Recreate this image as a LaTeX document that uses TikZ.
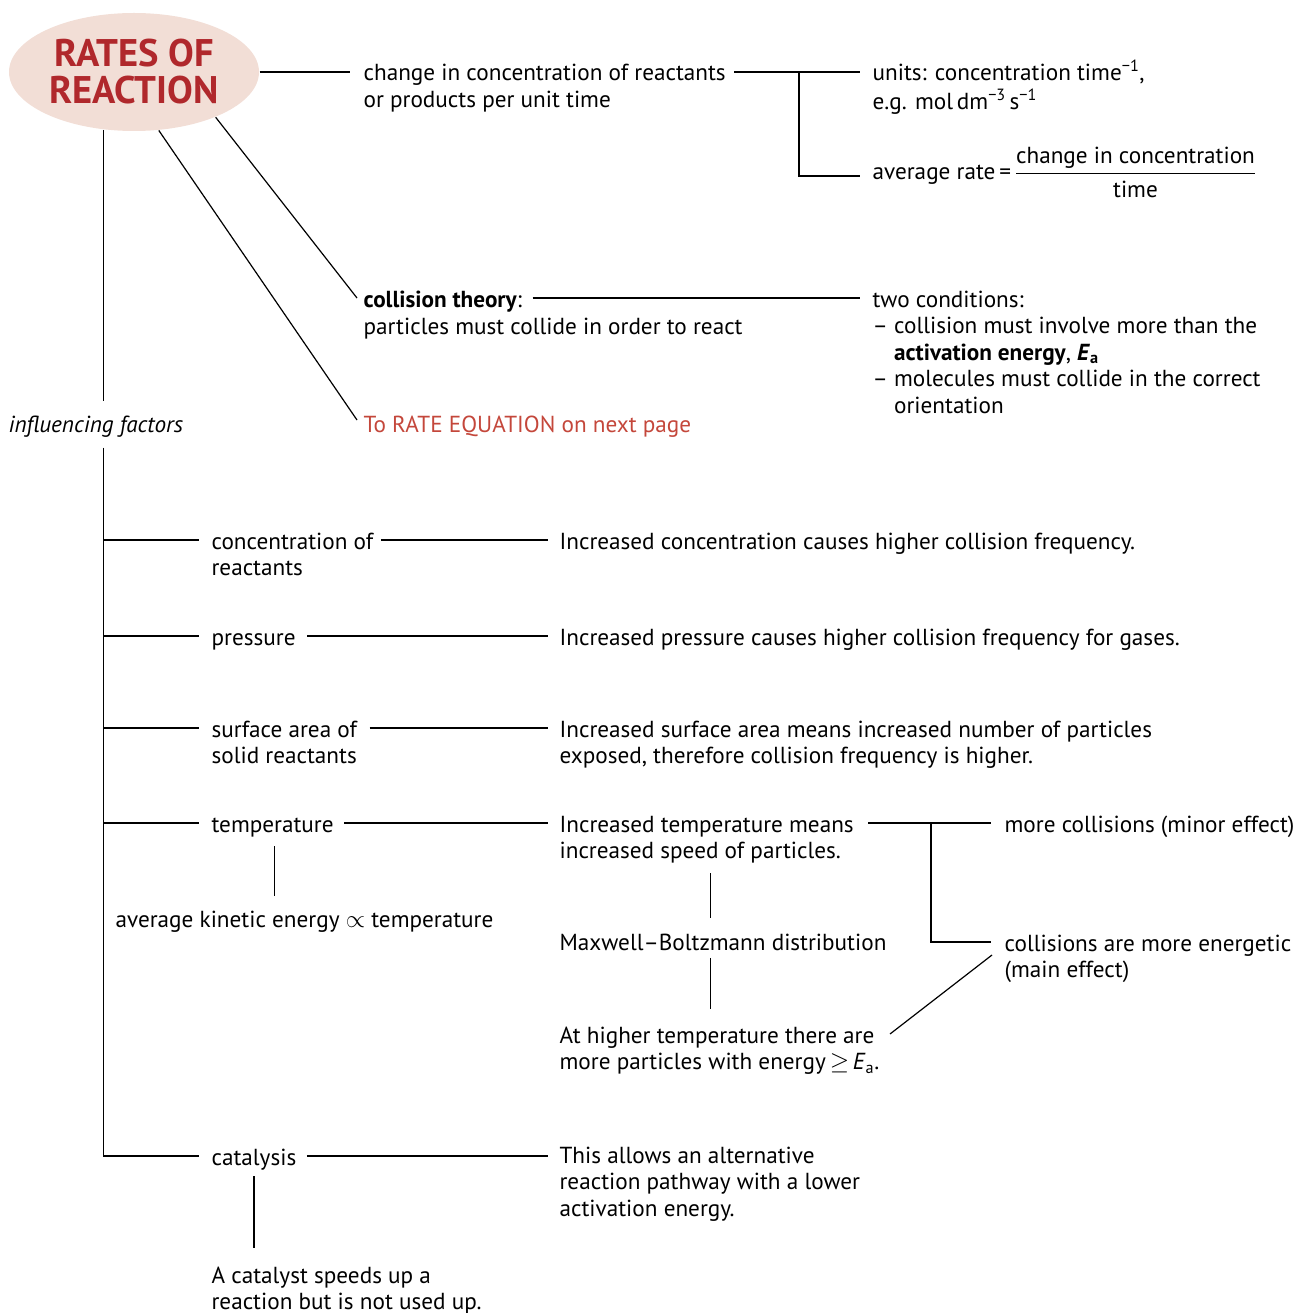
\documentclass[tikz,border=0pt]{standalone}
\usepackage{amsmath}
\usepackage{fontspec}
\setmainfont{PT Sans}
\usetikzlibrary{shapes.geometric,calc}
\definecolor{titlered}{HTML}{B0282C}
\definecolor{titlefill}{HTML}{F2DED6}
\definecolor{linkred}{HTML}{C4473B}
\newcommand\mlines[1]{\begin{tabular}[t]{@{}l@{}}#1\end{tabular}}
\begin{document}
\begin{tikzpicture}[x=1pt,y=-1pt,
  txt/.style={anchor=base west, inner sep=0pt, font=\fontsize{23.2}{26.5}\selectfont},
  every path/.style={line width=1.2pt}]
\useasboundingbox (0,0) rectangle (1296,1313);
\node[ellipse, fill=titlefill, minimum width=250pt, minimum height=118pt, inner sep=0pt,
  align=center, font=\fontsize{38.5}{37}\selectfont\bfseries, text=titlered] (title) at (134,72) {RATES OF\\REACTION};
\node[txt] (ct) at (363,81) {\mlines{change in concentration of reactants\\or products per unit time}};
\node[txt] (units) at (872,81) {\mlines{units: concentration time\textsuperscript{−1},\\e.g. mol\,dm\textsuperscript{−3}\,s\textsuperscript{−1}}};
\node[txt] (avg) at (872,180) {average rate\,=\,$\dfrac{\text{change in concentration}}{\text{time}}$};
\node[txt] (ct1) at (363,307) {\textbf{collision theory}:};
\node[txt] (ct2) at (363,334) {particles must collide in order to react};
\node[txt] (two) at (872,307) {\mlines{two conditions:\\– collision must involve more than the\\\phantom{– }\textbf{activation energy}, \textbf{\textit{E}\textsubscript{a}}\\– molecules must collide in the correct\\\phantom{– }orientation}};
\node[txt, text=linkred] (rate) at (363,432) {To RATE EQUATION on next page};
\node[txt] (inf) at (8,432) {\textit{influencing factors}};
\node[txt] (conc) at (211,549) {\mlines{concentration of\\reactants}};
\node[txt] (pres) at (211,645) {pressure};
\node[txt] (surf) at (211,737) {\mlines{surface area of\\solid reactants}};
\node[txt] (temp) at (211,832) {temperature};
\node[txt] (cat) at (211,1165) {catalysis};
\node[txt] (e1) at (559,549) {Increased concentration causes higher collision frequency.};
\node[txt] (e2) at (559,645) {Increased pressure causes higher collision frequency for gases.};
\node[txt] (e3) at (559,737) {\mlines{Increased surface area means increased number of particles\\exposed, therefore collision frequency is higher.}};
\node[txt] (e4) at (559,832) {\mlines{Increased temperature means\\increased speed of particles.}};
\node[txt] (e5) at (559,1163) {\mlines{This allows an alternative\\reaction pathway with a lower\\activation energy.}};
\node[txt] (more) at (1004,832) {more collisions (minor effect)};
\node[txt] (ener) at (1004,951) {\mlines{collisions are more energetic\\(main effect)}};
\node[txt] (ake) at (115,927) {average kinetic energy $\propto$ temperature};
\node[txt] (mb) at (559,950) {Maxwell–Boltzmann distribution};
\node[txt] (ath) at (559,1043) {\mlines{At higher temperature there are\\more particles with energy\,$\geq$\,\textit{E}\textsubscript{a}.}};
\node[txt] (cs) at (211,1283) {\mlines{A catalyst speeds up a\\reaction but is not used up.}};
% top connectors
\draw (title.east) -- ($(ct.base west)+(-13,-9)$);
\draw ($(ct.base east)+(8,-9)$) -- ($(units.base west)+(-12,-9)$);
\draw ($(units.base west)+(-73,-9)$) |- ($(avg.base west)+(-12,-4)$);
\draw (title.-29) -- ($(ct1.base west)+(-6,-9)$);
\draw (title.-67) -- ($(rate.base west)+(-6,-12)$);
\draw ($(ct1.base east)+(10,-9)$) -- ($(two.base west)+(-12,-9)$);
% trunk
\coordinate (t1) at (title.-118);
\draw (t1) -- ($(t1 |- inf.north)+(0,-14)$);
\draw ($(t1 |- inf.south)+(0,10)$) |- ($(cat.base west)+(-12,-9)$);
\draw ($(t1 |- conc.base west)+(0,-9)$) -- ($(conc.base west)+(-12,-9)$);
\draw ($(t1 |- pres.base west)+(0,-9)$) -- ($(pres.base west)+(-12,-9)$);
\draw ($(t1 |- surf.base west)+(0,-9)$) -- ($(surf.base west)+(-12,-9)$);
\draw ($(t1 |- temp.base west)+(0,-9)$) -- ($(temp.base west)+(-12,-9)$);
% factor to effect
\draw ($(conc.base east)+(7,-9)$) -- ($(e1.base west)+(-11,-9)$);
\draw ($(pres.base east)+(11,-9)$) -- ($(e2.base west)+(-11,-9)$);
\draw ($(surf.base east)+(12,-9)$) -- ($(e3.base west)+(-11,-9)$);
\draw ($(temp.base east)+(10,-9)$) -- ($(e4.base west)+(-11,-9)$);
\draw ($(cat.base east)+(10,-9)$) -- ($(e5.base west)+(-11,-7)$);
% temperature details
\draw ($(temp.south)+(2,9)$) -- ($(temp.south |- ake.north)+(2,-14)$);
\draw ($(e4.base east)+(14,-9)$) -- ($(more.base west)+(-13,-9)$);
\draw ($(more.base west)+(-73,-9)$) |- ($(ener.base west)+(-13,-9)$);
\draw ($(e4.south)+(4,6)$) -- ($(e4.south |- mb.north)+(4,-15)$);
\draw ($(mb.south -| e4.south)+(4,7)$) -- ($(ath.north -| e4.south)+(4,-15)$);
\draw ($(ath.base west)+(331,-9)$) -- ($(ener.base west)+(-12,4)$);
% catalysis
\draw ($(cat.south)+(0,6)$) -- ($(cat.south |- cs.north)+(0,-16)$);
\end{tikzpicture}
\end{document}
